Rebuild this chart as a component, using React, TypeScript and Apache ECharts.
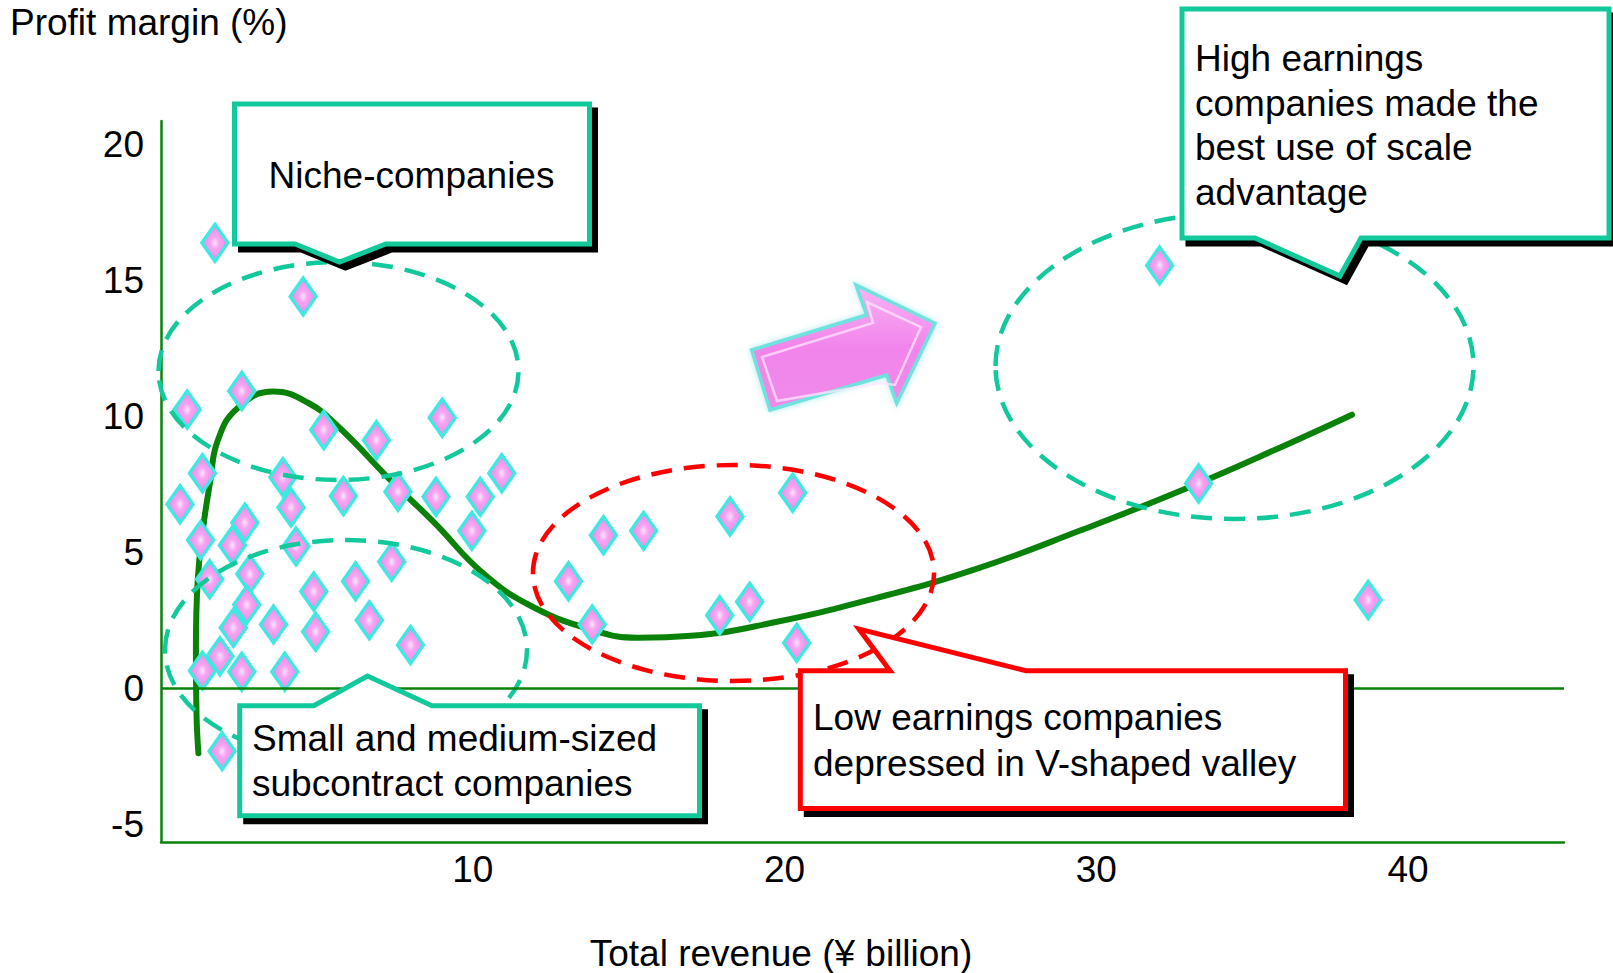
import React, { useEffect, useRef } from "react";
import * as echarts from "echarts";

// ---- data ----
const companyRevenue = [
  1.73, 4.56, 0.84, 2.59, 5.22, 6.91, 9.02, 1.33, 0.61, 3.91, 4.17, 5.85, 7.6, 8.82, 10.24, 10.93, 9.97,
  1.27, 2.29, 2.69, 4.33, 1.56, 2.85, 2.75, 4.9, 6.24, 7.4, 2.32, 3.61, 4.96, 6.68, 8.0, 1.89, 1.33,
  2.59, 3.97, 1.96, 13.07, 14.19, 15.48, 13.83, 18.25, 20.26, 17.92, 18.88, 20.39, 32.03, 33.28, 38.72,
];
const companyMargin = [
  16.37, 14.4, 10.24, 10.92, 9.49, 9.11, 9.94, 7.9, 6.76, 7.75, 6.64, 7.06, 7.22, 7.03, 7.03, 7.9, 5.78,
  5.44, 5.25, 6.08, 5.21, 4.0, 4.19, 3.06, 3.55, 3.93, 4.64, 2.22, 2.34, 2.07, 2.49, 1.58, 1.17, 0.64,
  0.6, 0.6, -2.32, 3.93, 5.62, 5.78, 2.34, 6.31, 7.18, 2.68, 3.17, 1.66, 15.54, 7.52, 3.24,
];
const trendRevenue = [
  1.2, 1.14, 1.12, 1.18, 1.34, 1.58, 1.82, 2.46, 3.6, 4.7, 5.7, 7.4, 8.75, 10.35, 11.9, 13.8, 15.3, 17.0,
  19.6, 22.9, 26.2, 29.5, 32.8, 36.1, 38.2,
];
const trendMargin = [
  -2.4, -1.0, 1.5, 4.0, 5.8, 7.6, 9.1, 10.3, 10.9, 10.5, 9.6, 7.6, 6.1, 4.2, 3.0, 2.15, 1.85, 1.92, 2.4,
  3.3, 4.4, 5.8, 7.3, 8.95, 10.05,
];
const xTickLabels = [10, 20, 30, 40];
const yTickLabels = [-5, 0, 5, 10, 15, 20];

const FONT = '"Liberation Sans", Arial, Helvetica, sans-serif';
const GREEN = "#0a820a";
const TEAL = "#12c99b";
const RED = "#ff0000";

function callout(points: number[][], stroke: string) {
  return [
    {
      type: "polygon",
      z: 20,
      shape: { points: points.map(([x, y]) => [x + 6, y + 6]) },
      style: { fill: "#000", stroke: "#000", lineWidth: 5 },
    },
    {
      type: "polygon",
      z: 21,
      shape: { points },
      style: { fill: "#fff", stroke, lineWidth: 5, lineJoin: "miter" },
    },
  ];
}

function dashedEllipse(cx: number, cy: number, rx: number, ry: number, stroke: string) {
  return {
    type: "ellipse",
    z: 5,
    shape: { cx, cy, rx, ry },
    style: { fill: "transparent", stroke, lineWidth: 4.5, lineDash: [21, 12] },
  };
}

function label(x: number, y: number, text: string, align: string, lineHeight = 44.6) {
  return {
    type: "text",
    z: 25,
    x,
    y,
    style: {
      text,
      fontSize: 37,
      fontFamily: FONT,
      fill: "#000",
      align,
      verticalAlign: "middle",
      lineHeight,
    },
  };
}

export default function App() {
  const ref = useRef<HTMLDivElement>(null);

  useEffect(() => {
    if (!ref.current) return;
    const chart = echarts.init(ref.current, null, { renderer: "svg" });

    const scatterData = companyRevenue.map((x, i) => [x, companyMargin[i]]);
    const trendData = trendRevenue.map((x, i) => [x, trendMargin[i]]);

    chart.setOption({
      animation: false,
      backgroundColor: "#fff",
      grid: { left: 161, right: 49, top: 121, bottom: 131, containLabel: false },
      xAxis: {
        type: "value",
        min: 0,
        max: 45,
        axisLine: { show: true, onZero: false, lineStyle: { color: GREEN, width: 2.5 } },
        axisTick: { show: false },
        splitLine: { show: false },
        axisLabel: {
          customValues: xTickLabels,
          fontSize: 37,
          fontFamily: FONT,
          color: "#000",
          margin: 9,
        },
      },
      yAxis: {
        type: "value",
        min: -5.66,
        max: 20.85,
        axisLine: { show: true, onZero: false, lineStyle: { color: GREEN, width: 2.5 } },
        axisTick: { show: false },
        splitLine: { show: false },
        axisLabel: {
          customValues: yTickLabels,
          fontSize: 37,
          fontFamily: FONT,
          color: "#000",
          margin: 17,
          padding: [7, 0, 0, 0],
        },
      },
      series: [
        {
          type: "line",
          data: trendData,
          smooth: 0.45,
          showSymbol: false,
          symbol: "none",
          z: 3,
          lineStyle: { color: GREEN, width: 6, cap: "round" },
          markLine: {
            silent: true,
            symbol: ["none", "none"],
            label: { show: false },
            lineStyle: { color: GREEN, width: 2.5, type: "solid" },
            data: [{ yAxis: 0 }],
          },
        },
        {
          type: "scatter",
          data: scatterData,
          symbol: "diamond",
          symbolSize: [26, 37],
          z: 4,
          itemStyle: {
            color: {
              type: "radial",
              x: 0.5,
              y: 0.5,
              r: 0.55,
              colorStops: [
                { offset: 0, color: "#fde4fb" },
                { offset: 0.3, color: "#f6a4f1" },
                { offset: 1, color: "#ee80e8" },
              ],
            },
            borderColor: "#3fe9e2",
            borderWidth: 3.5,
            opacity: 1,
          },
        },
      ],
      graphic: [
        {
          type: "text",
          z: 25,
          left: 10,
          top: 4,
          style: { text: "Profit margin (%)", fontSize: 37, fontFamily: FONT, fill: "#000" },
        },
        {
          type: "text",
          z: 25,
          x: 781,
          y: 953,
          style: {
            text: "Total revenue (¥ billion)",
            fontSize: 37,
            fontFamily: FONT,
            fill: "#000",
            align: "center",
            verticalAlign: "middle",
          },
        },
        dashedEllipse(338.5, 371, 180, 109, TEAL),
        dashedEllipse(346, 650, 181, 110, TEAL),
        dashedEllipse(733.5, 573, 200.6, 108, RED),
        dashedEllipse(1234.5, 366, 239, 153, TEAL),
        ...callout(
          [
            [234.5, 104],
            [589.5, 104],
            [589.5, 244],
            [385.8, 244],
            [339.5, 262],
            [295, 244],
            [234.5, 244],
          ],
          TEAL
        ),
        ...callout(
          [
            [1182, 9],
            [1609, 9],
            [1609, 238],
            [1361, 238],
            [1340, 276],
            [1255, 238],
            [1182, 238],
          ],
          TEAL
        ),
        ...callout(
          [
            [239.7, 705.7],
            [313.8, 705.7],
            [367.5, 676],
            [432, 705.7],
            [699.5, 705.7],
            [699.5, 815.8],
            [239.7, 815.8],
          ],
          TEAL
        ),
        ...callout(
          [
            [800.3, 670.7],
            [890, 670.7],
            [859, 629],
            [1026, 670.7],
            [1345.5, 670.7],
            [1345.5, 808.6],
            [800.3, 808.6],
          ],
          RED
        ),
        label(411.5, 175, "Niche-companies", "center"),
        label(1195, 125.5, "High earnings\ncompanies made the\nbest use of scale\nadvantage", "left", 44.6),
        label(252, 761.3, "Small and medium-sized\nsubcontract companies", "left", 45.3),
        label(813, 740.6, "Low earnings companies\ndepressed in V-shaped valley", "left", 45.3),
        // pink arrow
        {
          type: "polygon",
          z: 15,
          shape: {
            points: [
              [751.7, 350],
              [866.7, 315],
              [856, 285],
              [935, 323.3],
              [896.7, 403.3],
              [886.7, 375],
              [770, 410],
            ],
          },
          style: {
            fill: {
              type: "linear",
              x: 0,
              y: 0,
              x2: 0,
              y2: 1,
              colorStops: [
                { offset: 0, color: "#f8b4f3" },
                { offset: 0.5, color: "#f284ec" },
                { offset: 1, color: "#ef8be9" },
              ],
            },
            stroke: "#6fe2de",
            lineWidth: 3.5,
            lineJoin: "miter",
            shadowBlur: 6,
            shadowColor: "rgba(120,220,220,0.6)",
          },
        },
        {
          type: "polygon",
          z: 16,
          shape: {
            points: [
              [762, 357],
              [873, 323],
              [867, 302],
              [921, 327],
              [895, 385],
              [881, 383],
              [777, 401],
            ],
          },
          style: {
            fill: "transparent",
            stroke: "rgba(255,230,253,0.75)",
            lineWidth: 2.5,
            lineJoin: "miter",
          },
        },
      ],
    });

    return () => chart.dispose();
  }, []);

  return (
    <div
      ref={ref}
      style={{ position: "fixed", left: 0, top: 0, width: 1613, height: 973, background: "#fff" }}
    />
  );
}
